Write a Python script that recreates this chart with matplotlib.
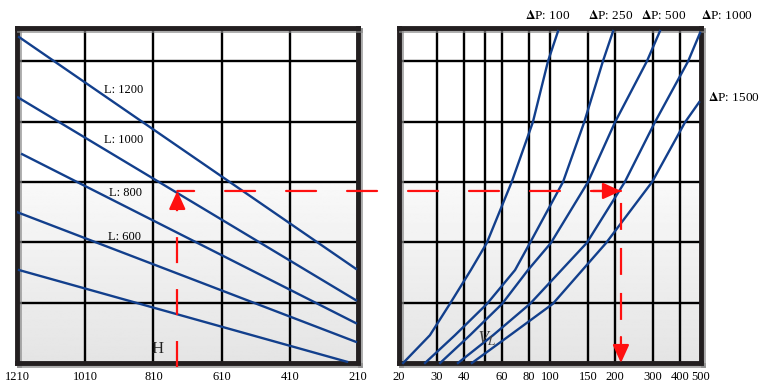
import numpy as np
import matplotlib
matplotlib.use('Agg')
import matplotlib.pyplot as plt
import matplotlib.patheffects as pe
from matplotlib.patches import ConnectionPatch
from matplotlib.ticker import NullLocator

plt.rcParams['font.family'] = ['Liberation Serif', 'DejaVu Serif']
plt.rcParams['mathtext.fontset'] = 'stix'
plt.rcParams['lines.scale_dashes'] = False

# left panel: H axis (reversed) and L lines
h_ticks = [1210, 1010, 810, 610, 410, 210]
l_names = ['L: 1200', 'L: 1000', 'L: 800', 'L: 600']
l_label_h = [896, 896, 893, 896]
l_label_y = [4.52, 3.69, 2.81, 2.09]
line1_h = [1204, 216]
line1_y = [5.40, 1.56]
line2_h = [1207, 216]
line2_y = [4.40, 1.04]
line3_h = [1195, 216]
line3_y = [3.46, 0.66]
line4_h = [1210, 216]
line4_y = [2.50, 0.35]
line5_h = [1204, 242]
line5_y = [1.54, 0.02]

# right panel: V (log) and pressure drop curves
v_ticks = [20, 30, 40, 50, 60, 80, 100, 150, 200, 300, 400, 500]
v_labels = ['20', '30', '40', '', '60', '80', '100', '150', '200', '300', '400', '500']
dp_names = ['P: 100', 'P: 250', 'P: 500', 'P: 1000', 'P: 1500']
dp_label_v = [98, 190, 337, 659, 540]
dp_label_y = [5.76, 5.76, 5.76, 5.76, 4.40]
dp100_v = [20.9, 27.8, 34.4, 43.0, 51.0, 66.5, 83.3, 97.9, 109]
dp100_y = [0, 0.46, 0.98, 1.54, 1.99, 3.0, 3.99, 5.0, 5.50]
dp250_v = [26.4, 36.3, 51.1, 68.9, 80.8, 114.9, 144, 175.8, 196]
dp250_y = [0, 0.46, 0.98, 1.54, 1.99, 3.0, 3.99, 5.0, 5.50]
dp500_v = [31.0, 42.6, 60.0, 79.1, 101, 150, 200, 281, 323]
dp500_y = [0, 0.46, 0.98, 1.54, 1.99, 3.0, 3.99, 5.0, 5.50]
dp1000_v = [37.5, 54.5, 80.8, 148, 222, 306, 436, 495]
dp1000_y = [0, 0.46, 0.98, 1.99, 3.0, 3.99, 5.0, 5.47]
dp1500_v = [43.5, 65.3, 103, 182, 297, 422, 490]
dp1500_y = [0, 0.46, 0.98, 1.99, 3.0, 3.99, 4.32]

# worked example (red dashed path)
h_example = 740
level_example = 2.85
v_example = 213

blue = '#123f8c'
red = '#ff1010'
frame = '#231f20'

fig = plt.figure(figsize=(7.6, 3.87), dpi=100)
ax1 = fig.add_axes([17 / 760, 24 / 387, 341 / 760, 335 / 387])
ax2 = fig.add_axes([399 / 760, 24 / 387, 302 / 760, 335 / 387])

# white top, light grey gradient towards the bottom
g = np.linspace(0, 1, 300)
shade = np.where(g > 0.54, 1.0, 0.895 + (0.975 - 0.895) * g / 0.54)
grad = shade[:, None]

for ax in (ax1, ax2):
    ax.imshow(grad, extent=[0, 1, 0, 1], transform=ax.transAxes, cmap='gray',
              vmin=0, vmax=1, aspect='auto', origin='lower', zorder=0)
    ax.set_ylim(0, 5.55)
    ax.set_yticks([1, 2, 3, 4, 5])
    ax.set_yticklabels([])
    ax.grid(True, color='black', lw=1.7)
    ax.tick_params(length=0, labelsize=9, pad=6)
    for s in ax.spines.values():
        s.set_linewidth(3.5)
        s.set_color(frame)
        s.set_path_effects([pe.SimpleLineShadow(offset=(1.5, -1.5), shadow_color='#888888', alpha=0.7),
                            pe.Normal()])

ax1.set_xlim(1210, 210)
ax1.set_xticks(h_ticks)
ax1.set_xticklabels([str(t) for t in h_ticks])

for hh, yy in [(line1_h, line1_y), (line2_h, line2_y), (line3_h, line3_y),
               (line4_h, line4_y), (line5_h, line5_y)]:
    ax1.plot(hh, yy, color=blue, lw=1.7, zorder=3)

for name, hx, hy in zip(l_names, l_label_h, l_label_y):
    ax1.text(hx, hy, name, fontsize=9, ha='center', va='center', zorder=4)
ax1.text(799, 0.23, 'H', fontsize=12, ha='center', va='center', color='#222222')

ax2.set_xscale('log')
ax2.set_xlim(20, 500)
ax2.set_xticks(v_ticks)
ax2.set_xticklabels(v_labels)
ax2.xaxis.set_minor_locator(NullLocator())

for vv, yy in [(dp100_v, dp100_y), (dp250_v, dp250_y), (dp500_v, dp500_y),
               (dp1000_v, dp1000_y), (dp1500_v, dp1500_y)]:
    ax2.plot(vv, yy, color=blue, lw=1.7, zorder=3, clip_on=False)

for i, (name, vx, vy) in enumerate(zip(dp_names, dp_label_v, dp_label_y)):
    ax2.text(vx, vy, r'$\mathbf{\Delta}$' + name, fontsize=9.5,
             ha='left' if i == 4 else 'center', va='center', clip_on=False)
ax2.text(51, 0.40, r'$V_L$', fontsize=13, ha='center', va='center', color='#444444')

# red dashed construction lines with arrows
ax1.plot([h_example, h_example], [-0.07, level_example - 0.3], color=red, lw=1.6,
         ls=(0, (18.7, 18.7)), clip_on=False, zorder=5)
ax1.annotate('', xy=(h_example, level_example), xytext=(h_example, level_example - 0.25),
             arrowprops=dict(arrowstyle='-|>,head_length=0.55,head_width=0.25',
                             color=red, lw=1.6, mutation_scale=20, shrinkA=0, shrinkB=0),
             zorder=6)

con = ConnectionPatch(xyA=(v_example, level_example), coordsA=ax2.transData,
                      xyB=(h_example, level_example), coordsB=ax1.transData,
                      color=red, lw=1.6, linestyle=(0, (21.6, 22.3)), zorder=5)
fig.add_artist(con)
ax2.annotate('', xy=(v_example, level_example), xytext=(158, level_example),
             arrowprops=dict(arrowstyle='-|>,head_length=0.55,head_width=0.25',
                             color=red, lw=1.6, mutation_scale=20, shrinkA=0, shrinkB=0),
             zorder=6)

ax2.plot([v_example, v_example], [level_example, 0.43], color=red, lw=1.6,
         ls=(23.8, (19.4, 13.0)), zorder=5)
ax2.annotate('', xy=(v_example, 0), xytext=(v_example, 0.43),
             arrowprops=dict(arrowstyle='-|>,head_length=0.55,head_width=0.25',
                             color=red, lw=1.6, mutation_scale=20, shrinkA=0, shrinkB=0),
             zorder=6)

fig.savefig('out.png', dpi=100)
